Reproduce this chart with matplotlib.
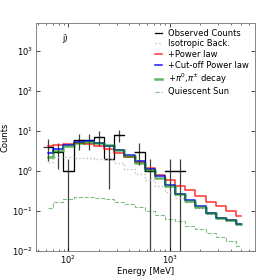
import numpy as np
import matplotlib
matplotlib.use('Agg')
import matplotlib.pyplot as plt
from matplotlib.ticker import NullLocator

# bin centres [MeV]
energy = [63, 79, 100, 126, 158, 200, 251, 316, 398, 501,
          631, 794, 1000, 1259, 1585, 1995, 2512, 3162, 3981, 5012]
# observed counts and error bars
observed = [4, 3, 1, 6, 6, 7, 2, 8, 0, 3, 1, 0, 1, 1, 0, 0, 0, 0, 0, 0]
err_hi = [2.3, 1.9, 1.0, 2.6, 2.6, 2.8, 2.2, 2.8, 0, 2.0, 1.0, 0, 1.0, 1.0, 0, 0, 0, 0, 0, 0]
err_lo = [2.2, 1.9, 1.0, 2.6, 2.6, 2.7, 1.65, 2.8, 0, 1.6, 1.0, 0, 1.0, 1.0, 0, 0, 0, 0, 0, 0]

isotropic = [1.65, 2.2, 2.2, 2.15, 2.1, 2.05, 2.0, 1.55, 1.15, 0.85,
             0.6, 0.42, 0.30, 0.21, 0.165, 0.122, 0.086, 0.066, 0.057, 0.046]
power_law = [4.1, 4.5, 4.8, 5.0, 4.7, 4.2, 3.5, 2.8, 2.2, 1.65,
             1.2, 0.8, 0.59, 0.43, 0.33, 0.24, 0.17, 0.13, 0.10, 0.077]
cutoff = [2.8, 3.6, 4.4, 5.2, 5.5, 5.0, 4.3, 3.4, 2.55, 1.75,
          1.15, 0.74, 0.45, 0.27, 0.185, 0.13, 0.09, 0.069, 0.06, 0.048]
pion = [2.3, 3.2, 4.2, 5.0, 5.3, 5.1, 4.5, 3.4, 2.35, 1.6,
        1.07, 0.68, 0.42, 0.26, 0.18, 0.125, 0.088, 0.068, 0.059, 0.048]
quiet_sun = [0.12, 0.17, 0.2, 0.225, 0.225, 0.21, 0.2, 0.17, 0.148, 0.126,
             0.1, 0.078, 0.064, 0.056, 0.043, 0.036, 0.029, 0.023, 0.018, 0.0135]

E = np.array(energy, dtype=float)
obs = np.array(observed, dtype=float)
obs_step = np.where(obs > 0, obs, np.nan)
lg = np.log10(E)
half = 0.05
xlo = E - 10**(lg - half)
xhi = 10**(lg + half) - E
has = obs > 0

plt.rcParams['font.size'] = 6
fig = plt.figure(figsize=(2.75, 2.79), dpi=100)
ax = fig.add_axes([0.131, 0.1, 0.796, 0.818])

ax.plot(E, obs_step, drawstyle='steps-mid', color='k', lw=0.9, label='Observed Counts')
ax.errorbar(E[has], obs[has], yerr=[np.array(err_lo)[has], np.array(err_hi)[has]],
            xerr=[xlo[has], xhi[has]], fmt='none', ecolor='k', elinewidth=0.9, alpha=0.75)
ax.plot(E, isotropic, drawstyle='steps-mid', color='0.75', ls=':', lw=1, label='Isotropic Back.')
ax.plot(E, power_law, drawstyle='steps-mid', color='r', lw=1.1, alpha=0.8, label='+Power law')
ax.plot(E, cutoff, drawstyle='steps-mid', color='b', lw=1.1, alpha=0.9, label='+Cut-off Power law')
ax.plot(E, pion, drawstyle='steps-mid', color='g', lw=1.8, alpha=0.6, label=r'+$\pi^0$,$\pi^{\pm}$ decay')
ax.plot(E, quiet_sun, drawstyle='steps-mid', color='g', ls='--', lw=0.8, alpha=0.5, label='Quiescent Sun')

ax.set_xscale('log')
ax.set_yscale('log')
ax.set_xlim(48, 6900)
ax.set_ylim(1e-2, 5e3)
ax.yaxis.set_minor_locator(NullLocator())
ax.set_xlabel('Energy [MeV]', fontsize=6, labelpad=0.5)
ax.set_ylabel('Counts', fontsize=6, labelpad=2)
ax.tick_params(which='both', direction='in', top=True, right=True, labelsize=6, pad=2)
ax.tick_params(which='major', length=3, width=0.5)
ax.tick_params(which='minor', length=1.5, width=0.4)
for s in ax.spines.values():
    s.set_linewidth(0.6)
    s.set_color('0.45')

ax.text(0.12, 0.93, 'j)', transform=ax.transAxes, fontsize=6, va='center')
ax.legend(loc='upper right', frameon=False, fontsize=6, handlelength=0.9,
          handletextpad=0.7, labelspacing=0.2, borderaxespad=0.3)

plt.savefig('out.png', dpi=100)
